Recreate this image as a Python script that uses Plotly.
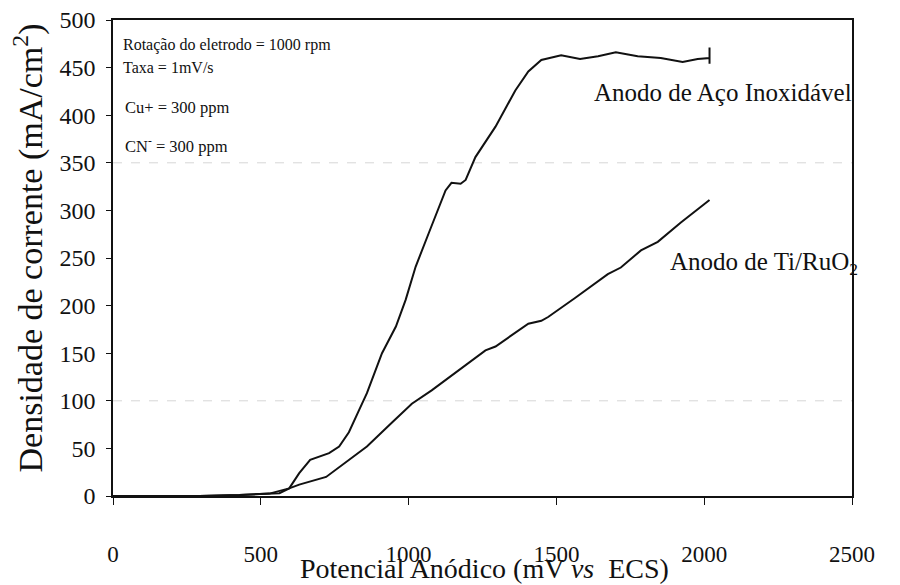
import plotly.graph_objects as go

# Anodo de Aço Inoxidável
potencial_aco = [0, 293, 428, 495, 563, 596, 630, 667, 731, 765, 798, 832, 859, 910, 957, 990,
                 1024, 1068, 1102, 1125, 1145, 1176, 1193, 1226, 1294, 1361, 1405, 1449, 1516,
                 1580, 1641, 1701, 1775, 1853, 1927, 1978, 2018, 2018, 2018, 2018]
corrente_aco = [0, 0, 1, 2, 3, 8, 24, 38, 45, 52, 67, 90, 108, 150, 178, 206,
                241, 276, 304, 321, 329, 328, 332, 356, 388, 426, 446, 458, 463,
                459, 462, 466, 462, 460, 456, 459, 460, 471, 454, 460]

# Anodo de Ti/RuO2
potencial_ti = [0, 293, 428, 529, 596, 630, 721, 785, 859, 943, 1011, 1078, 1135, 1260, 1294,
                1405, 1449, 1472, 1563, 1674, 1718, 1786, 1843, 1920, 2018]
corrente_ti = [0, 0, 1, 2.5, 8, 12, 20, 35, 52, 77, 97, 111, 124, 153, 157,
               181, 184, 188, 208, 233, 240, 258, 267, 287, 311]

x_ticks = [0, 500, 1000, 1500, 2000, 2500]
y_ticks = list(range(0, 501, 50))
grid_y = [100, 350]

SERIF = "Liberation Serif, Times New Roman, serif"

fig = go.Figure()
fig.add_trace(go.Scatter(x=potencial_aco, y=corrente_aco, mode="lines",
                         line=dict(color="#111111", width=2), name="Aço Inoxidável"))
fig.add_trace(go.Scatter(x=potencial_ti, y=corrente_ti, mode="lines",
                         line=dict(color="#111111", width=2), name="Ti/RuO2"))

for gy in grid_y:
    fig.add_shape(type="line", xref="paper", yref="y", x0=0, x1=1, y0=gy, y1=gy,
                  line=dict(color="#d6d6d6", width=1, dash="dash"), layer="below")

# page body has an 8px margin: shrink figure and shift margins accordingly
fig.update_layout(
    width=892, height=577,
    margin=dict(l=105, r=48, t=12, b=89),
    plot_bgcolor="white", paper_bgcolor="white",
    showlegend=False,
    font=dict(family=SERIF, color="#111111"),
    xaxis=dict(range=[0, 2500], tickvals=x_ticks, showline=True, linecolor="#111111",
               linewidth=1.5, mirror=True, ticks="outside", ticklen=7, tickcolor="#111111",
               showgrid=False, zeroline=False, ticklabelstandoff=30, automargin=False,
               ticklabeloverflow="allow",
               tickfont=dict(family=SERIF, size=23, color="#111111")),
    yaxis=dict(range=[0, 500], tickvals=y_ticks, showline=True, linecolor="#111111",
               linewidth=1.5, mirror=True, ticks="outside", ticklen=5, tickcolor="#111111",
               showgrid=False, zeroline=False, ticklabelstandoff=6, automargin=False,
               ticklabeloverflow="allow",
               tickfont=dict(family=SERIF, size=24, color="#111111")),
)

annotations = [
    dict(text="Potencial Anódico (mV <i>vs</i>  ECS)", x=0.503, y=-0.152, xanchor="center",
         yanchor="middle", font=dict(size=28)),
    dict(text="Densidade de corrente (mA/cm<sup>2</sup>)", x=-0.115, y=0.52, xanchor="center",
         yanchor="middle", textangle=-90, font=dict(size=34)),
    dict(text="Rotação do eletrodo = 1000 rpm", x=0.011, y=0.947, xanchor="left",
         yanchor="middle", font=dict(size=16)),
    dict(text="Taxa = 1mV/s", x=0.011, y=0.901, xanchor="left", yanchor="middle",
         font=dict(size=16)),
    dict(text="Cu+ = 300 ppm", x=0.014, y=0.817, xanchor="left", yanchor="middle",
         font=dict(size=16.5)),
    dict(text="CN<sup>-</sup> = 300 ppm", x=0.014, y=0.737, xanchor="left", yanchor="middle",
         font=dict(size=16.5)),
    dict(text="Anodo de Aço Inoxidável", x=0.648, y=0.847, xanchor="left", yanchor="middle",
         font=dict(size=25)),
    dict(text="Anodo de Ti/RuO<sub>2</sub>", x=0.751, y=0.489, xanchor="left",
         yanchor="middle", font=dict(size=25)),
]
for a in annotations:
    a.update(xref="paper", yref="paper", showarrow=False)
    a["font"].setdefault("family", SERIF)
    a["font"].setdefault("color", "#111111")
    fig.add_annotation(**a)

fig.write_html("out.html")
